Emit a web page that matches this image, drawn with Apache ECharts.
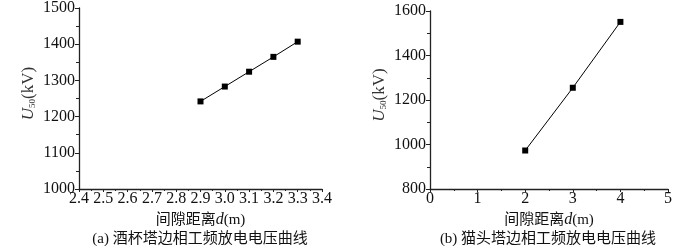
<!DOCTYPE html>
<html>
<head>
<meta charset="utf-8">
<script src="https://cdn.jsdelivr.net/npm/echarts@6/dist/echarts.min.js"></script>
<style>
  html, body { margin: 0; padding: 0; background: #fff; }
  #chart { width: 696px; height: 246px; }
</style>
</head>
<body>
<div id="chart"></div>
<script>
// (a) 酒杯塔
const gapA = [2.9, 3.0, 3.1, 3.2, 3.3]
const u50A = [1242, 1283, 1324, 1365, 1407]
// (b) 猫头塔
const gapB = [2, 3, 4]
const u50B = [973, 1255, 1551]

const captions = ['(a) 酒杯塔边相工频放电电压曲线', '(b) 猫头塔边相工频放电电压曲线']
const xName = '间隙距离'

const serif = 'Liberation Serif, DejaVu Serif, serif'
const cjk = 'Liberation Serif, Noto Sans CJK SC, serif'

const chart = echarts.init(document.getElementById('chart'), null, { renderer: 'canvas' })

function xAxisCfg(gridIndex, min, max, interval, fmt) {
  return {
    type: 'value', gridIndex, min, max, interval,
    name: '{t|' + xName + '}{i|d}{t|(m)}',
    nameLocation: 'middle', nameGap: 23,
    nameTextStyle: {
      rich: {
        t: { fontFamily: cjk, fontSize: 15, color: '#111' },
        i: { fontFamily: serif, fontStyle: 'italic', fontSize: 16, color: '#111' }
      }
    },
    axisLine: { onZero: false, lineStyle: { color: '#222', width: 1.3 } },
    axisTick: { inside: false, length: 3, lineStyle: { color: '#222' } },
    minorTick: { show: true, splitNumber: 2, length: 2, lineStyle: { color: '#222' } },
    splitLine: { show: false },
    axisLabel: { fontFamily: serif, fontSize: 16, color: '#111', margin: 2, formatter: fmt }
  }
}

function yAxisCfg(gridIndex, min, max, interval) {
  return {
    type: 'value', gridIndex, min, max, interval,
    name: '{u|U}{s|50}{t|(kV)}',
    nameLocation: 'middle', nameGap: 42, nameRotate: 90,
    nameTextStyle: {
      padding: [0, 0, 0, 10],
      rich: {
        u: { fontFamily: serif, fontStyle: 'italic', fontSize: 17, color: '#333' },
        s: { fontFamily: serif, fontSize: 9, color: '#333', verticalAlign: 'bottom', padding: [7, 0, 0, 0] },
        t: { fontFamily: serif, fontSize: 17, color: '#333' }
      }
    },
    axisLine: { onZero: false, lineStyle: { color: '#222', width: 1.3 } },
    axisTick: { inside: false, length: 4, lineStyle: { color: '#222' } },
    minorTick: { show: true, splitNumber: 2, length: 3, lineStyle: { color: '#222' } },
    splitLine: { show: false },
    axisLabel: { fontFamily: serif, fontSize: 16, color: '#111', margin: 4, formatter: (v) => String(v) }
  }
}

function lineSeries(idx, xs, ys) {
  return {
    type: 'line', xAxisIndex: idx, yAxisIndex: idx,
    data: xs.map((x, i) => [x, ys[i]]),
    symbol: 'rect', symbolSize: 6,
    itemStyle: { color: '#000' },
    lineStyle: { color: '#000', width: 1 },
    animation: false
  }
}

chart.setOption({
  backgroundColor: '#fff',
  animation: false,
  grid: [
    { left: 79, top: 5, width: 243, height: 184 },
    { left: 430, top: 11, width: 238, height: 178 }
  ],
  xAxis: [
    xAxisCfg(0, 2.4, 3.4, 0.1, (v) => v.toFixed(1)),
    xAxisCfg(1, 0, 5, 1, (v) => String(v))
  ],
  yAxis: [
    yAxisCfg(0, 1000, 1500, 100),
    yAxisCfg(1, 800, 1600, 200)
  ],
  series: [
    lineSeries(0, gapA, u50A),
    lineSeries(1, gapB, u50B)
  ],
  graphic: [
    { type: 'text', x: 200, y: 239, style: { text: captions[0], fontFamily: cjk, fontSize: 15, fill: '#111', align: 'center', verticalAlign: 'middle' } },
    { type: 'text', x: 548, y: 239, style: { text: captions[1], fontFamily: cjk, fontSize: 15, fill: '#111', align: 'center', verticalAlign: 'middle' } }
  ]
})
</script>
</body>
</html>
